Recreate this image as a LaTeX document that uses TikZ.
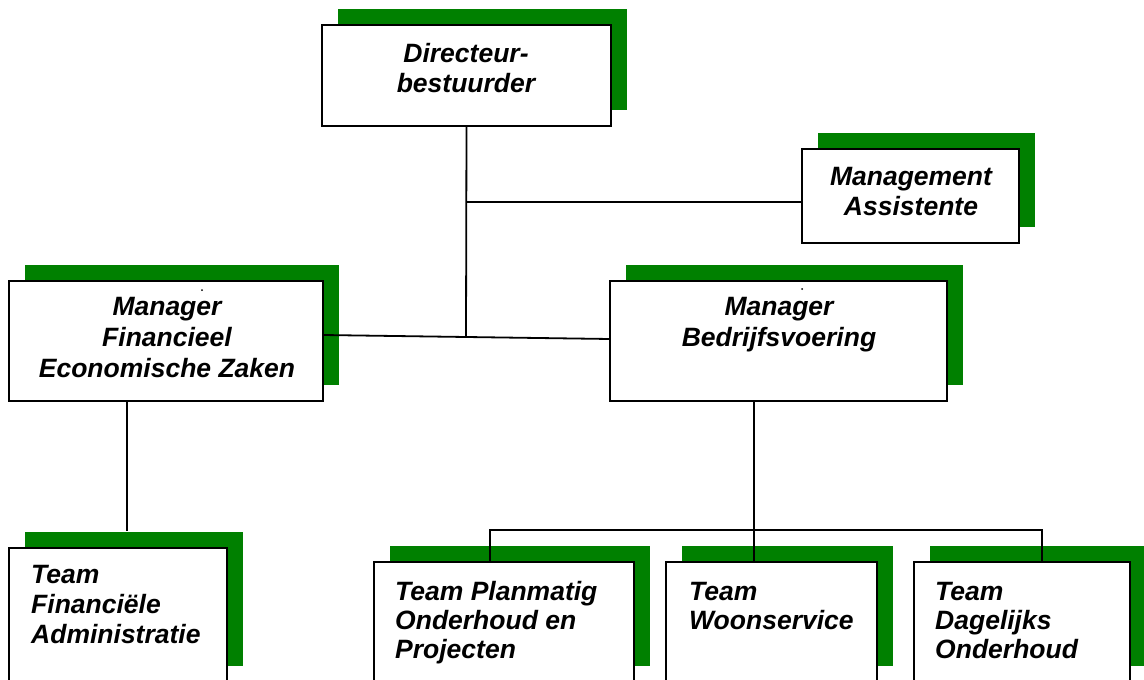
\documentclass[tikz,border=0pt]{standalone}
\usepackage{fontspec}
\setmainfont{Liberation Sans}
\definecolor{shadowgreen}{RGB}{0,128,0}
\tikzset{
  boxstyle/.style={draw=black, fill=white, line width=2pt, rectangle, inner sep=0pt, outer sep=0pt},
  greenshadow/.style={fill=shadowgreen},
  lbl/.style={font=\fontsize{26.5}{31}\selectfont\bfseries\itshape, inner sep=0pt, text=black},
  conn/.style={line width=1.8pt, draw=black},
}
% name, x1, y1, x2, y2 (pixel coordinates, y downwards)
\newcommand\orgbox[5]{%
  \fill[greenshadow] (#2+16,#3-16) rectangle (#4+16,#5-16);
  \node[boxstyle, minimum width={#4-#2}, minimum height={#5-#3}] (#1) at ({(#2+#4)/2},{(#3+#5)/2}) {};
}
\newcommand\lbltext[5]{\node[lbl, anchor=#4] (#1) at (#2,#3) {#5};}
\begin{document}
\begin{tikzpicture}[x=1pt,y=-1pt]
\useasboundingbox (0,0) rectangle (1144,680);
\clip (0,0) rectangle (1144,680);
\fill[white] (0,0) rectangle (1144,680);

% boxes
\orgbox{dir}{322}{25}{611}{126}
\orgbox{ma}{802}{149}{1019}{243}
\orgbox{fez}{9}{281}{323}{401}
\orgbox{mb}{610}{281}{947}{401}
\orgbox{tfa}{9}{548}{227}{682}
\orgbox{tpo}{374}{562}{634}{682}
\orgbox{tws}{666}{562}{877}{682}
\orgbox{tdo}{914}{562}{1130}{682}

% texts
\lbltext{dir1}{466}{62}{base}{Directeur-}
\lbltext{dir2}{466}{92}{base}{bestuurder}
\lbltext{ma1}{911}{185}{base}{Management}
\lbltext{ma2}{911}{215}{base}{Assistente}
\lbltext{fez1}{167}{315.5}{base}{Manager}
\lbltext{fez2}{167}{346.5}{base}{Financieel}
\lbltext{fez3}{167}{377.5}{base}{Economische Zaken}
\lbltext{mb1}{779}{315.5}{base}{Manager}
\lbltext{mb2}{779}{346.5}{base}{Bedrijfsvoering}
\lbltext{tfa1}{31}{583}{base west}{Team}
\lbltext{tfa2}{31}{613}{base west}{Financiële}
\lbltext{tfa3}{31}{643.5}{base west}{Administratie}
\lbltext{tpo1}{395}{600.5}{base west}{Team Planmatig}
\lbltext{tpo2}{395}{629.5}{base west}{Onderhoud en}
\lbltext{tpo3}{395}{658.5}{base west}{Projecten}
\lbltext{tws1}{689}{600.5}{base west}{Team}
\lbltext{tws2}{689}{629.5}{base west}{Woonservice}
\lbltext{tdo1}{935}{600.5}{base west}{Team}
\lbltext{tdo2}{935}{629.5}{base west}{Dagelijks}
\lbltext{tdo3}{935}{658.5}{base west}{Onderhoud}

% tiny dots
\fill (202,290) circle (1pt);
\fill (802,289) circle (1pt);

% connectors
\coordinate (j1) at (466,337);
\coordinate (j2) at (466,202);
\draw[conn] ([yshift=6pt]fez.east) -- ([yshift=2pt]mb.west);
\draw[conn] (dir.south) -- (j1);
\draw[conn] (j2) -- (j2 -| ma.west);

\coordinate (fv) at (127,401);
\coordinate (fvend) at (127,531);
\draw[conn] (fv) -- (fvend);

\coordinate (bv) at (754,401);
\coordinate (busL) at (490,530);
\coordinate (busR) at (1042,530);
\draw[conn] (bv) -- (bv |- tws.north);
\draw[conn] (busL |- tpo.north) -- (busL) -- (busR) -- (busR |- tdo.north);
\end{tikzpicture}
\end{document}
